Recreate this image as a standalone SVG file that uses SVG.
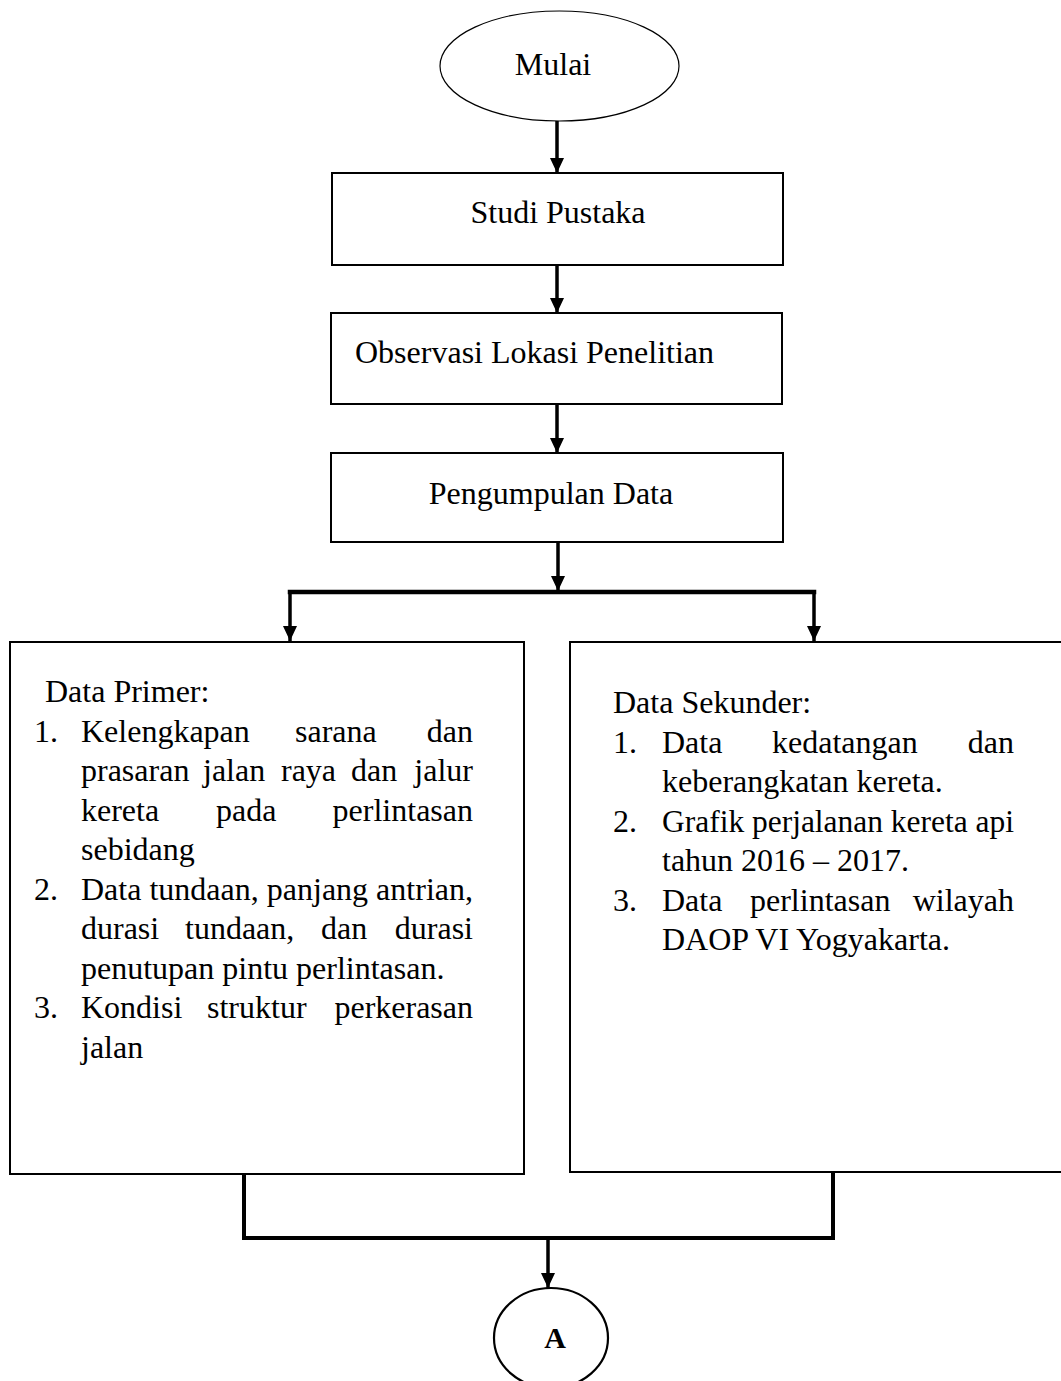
<svg xmlns="http://www.w3.org/2000/svg" width="1061" height="1381" viewBox="0 0 1061 1381">
<style>
.t{font-family:"Liberation Serif","Times New Roman",serif;font-size:32px;fill:#000}
.c{text-anchor:middle}
.e{text-anchor:end}
.b{font-weight:bold}
.box{fill:#fff;stroke:#000;stroke-width:2}
.ln{fill:none;stroke:#000;stroke-width:3.5;stroke-linecap:square}
.ar{fill:none;stroke:#000;stroke-width:3.5}
</style>
<defs>
<marker id="ah" markerUnits="userSpaceOnUse" markerWidth="16" markerHeight="15" refX="15" refY="7" orient="auto">
<path d="M0,0 L15,7 L0,14 z" fill="#000"/>
</marker>
</defs>
<rect width="1061" height="1381" fill="#fff"/>
<g id="connectors">
<line class="ar" x1="557" y1="121" x2="557" y2="173" marker-end="url(#ah)"/>
<line class="ar" x1="557" y1="265" x2="557" y2="313" marker-end="url(#ah)"/>
<line class="ar" x1="557" y1="404" x2="557" y2="453" marker-end="url(#ah)"/>
<line class="ar" x1="558" y1="542" x2="558" y2="591" marker-end="url(#ah)"/>
<line class="ln" x1="290" y1="592" x2="814" y2="592" style="stroke-width:4.5"/>
<line class="ar" x1="290" y1="592" x2="290" y2="641" marker-end="url(#ah)"/>
<line class="ar" x1="814" y1="592" x2="814" y2="641" marker-end="url(#ah)"/>
<polyline class="ln" points="244,1174 244,1238 833,1238 833,1172" style="stroke-width:4"/>
<line class="ar" x1="548" y1="1238" x2="548" y2="1288" marker-end="url(#ah)"/>
</g>
<g id="mulai">
<ellipse cx="559.5" cy="66" rx="119.5" ry="55" fill="#fff" stroke="#000" stroke-width="1.2"/>
<text class="t c" x="553" y="75">Mulai</text>
</g>
<g id="studi">
<rect class="box" x="332" y="173" width="451" height="92"/>
<text class="t c" x="558" y="223">Studi Pustaka</text>
</g>
<g id="observasi">
<rect class="box" x="331" y="313" width="451" height="91"/>
<text class="t" x="355" y="363">Observasi Lokasi Penelitian</text>
</g>
<g id="pengumpulan">
<rect class="box" x="331" y="453" width="452" height="89"/>
<text class="t c" x="551" y="504">Pengumpulan Data</text>
</g>
<g id="primer">
<rect class="box" x="10" y="642" width="514" height="532"/>
<text class="t" x="45" y="702">Data Primer:</text>
<text class="t" x="34" y="741.5">1.</text>
<text class="t" x="81" y="741.5">Kelengkapan</text>
<text class="t" x="295" y="741.5">sarana</text>
<text class="t e" x="473" y="741.5">dan</text>
<text class="t" x="81" y="781">prasaran</text>
<text class="t" x="203" y="781">jalan</text>
<text class="t" x="281" y="781">raya</text>
<text class="t" x="351" y="781">dan</text>
<text class="t e" x="473" y="781">jalur</text>
<text class="t" x="81" y="820.5">kereta</text>
<text class="t" x="216" y="820.5">pada</text>
<text class="t e" x="473" y="820.5">perlintasan</text>
<text class="t" x="81" y="860">sebidang</text>
<text class="t" x="34" y="899.5">2.</text>
<text class="t" x="81" y="899.5" textLength="392" lengthAdjust="spacing">Data tundaan, panjang antrian,</text>
<text class="t" x="81" y="939">durasi</text>
<text class="t" x="185" y="939">tundaan,</text>
<text class="t" x="321" y="939">dan</text>
<text class="t e" x="473" y="939">durasi</text>
<text class="t" x="81" y="978.5">penutupan pintu perlintasan.</text>
<text class="t" x="34" y="1018">3.</text>
<text class="t" x="81" y="1018">Kondisi</text>
<text class="t" x="207" y="1018">struktur</text>
<text class="t e" x="473" y="1018">perkerasan</text>
<text class="t" x="81" y="1057.5">jalan</text>
</g>
<g id="sekunder">
<rect class="box" x="570" y="642" width="520" height="530"/>
<text class="t" x="613" y="713">Data Sekunder:</text>
<text class="t" x="613" y="752.5">1.</text>
<text class="t" x="662" y="752.5">Data</text>
<text class="t" x="772" y="752.5">kedatangan</text>
<text class="t e" x="1014" y="752.5">dan</text>
<text class="t" x="662" y="792">keberangkatan kereta.</text>
<text class="t" x="613" y="831.5">2.</text>
<text class="t" x="662" y="831.5" textLength="352" lengthAdjust="spacingAndGlyphs">Grafik perjalanan kereta api</text>
<text class="t" x="662" y="871">tahun 2016 – 2017.</text>
<text class="t" x="613" y="910.5">3.</text>
<text class="t" x="662" y="910.5">Data</text>
<text class="t" x="750" y="910.5">perlintasan</text>
<text class="t e" x="1014" y="910.5">wilayah</text>
<text class="t" x="662" y="950">DAOP VI Yogyakarta.</text>
</g>
<g id="a">
<ellipse cx="551" cy="1338" rx="57" ry="50" fill="#fff" stroke="#000" stroke-width="2.2"/>
<text class="t c b" x="555" y="1348" style="font-size:30px">A</text>
</g>
</svg>
